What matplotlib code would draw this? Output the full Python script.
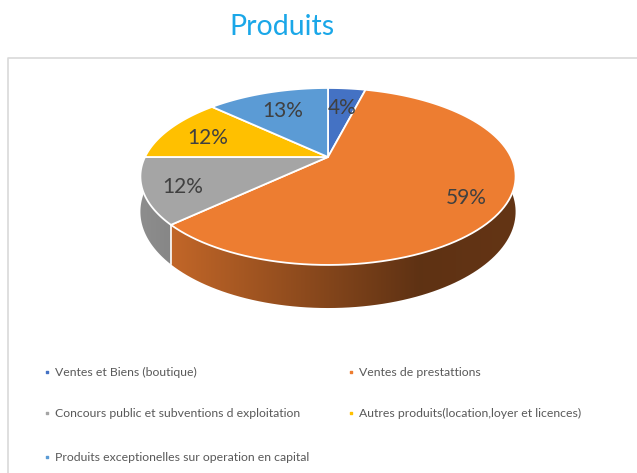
import numpy as np
import matplotlib.pyplot as plt
from matplotlib.patches import Polygon
from matplotlib.colors import to_rgb

# data
categories = ['Ventes et Biens (boutique)', 'Ventes de prestattions',
              'Concours public et subventions d exploitation',
              'Autres produits(location,loyer et licences)',
              'Produits exceptionelles sur operation en capital']
values = [4, 59, 12, 12, 13]
labels = ['4%', '59%', '12%', '12%', '13%']
colors = ['#4472C4', '#ED7D31', '#A5A5A5', '#FFC000', '#5B9BD5']

plt.rcParams['font.family'] = ['Lato', 'DejaVu Sans']

fig = plt.figure(figsize=(6.37, 4.73), dpi=100)
ax = fig.add_axes([0, 0, 1, 1])
ax.set_xlim(0, 637)
ax.set_ylim(473, 0)
ax.axis('off')

# chart border
ax.plot([8, 8, 640], [480, 58, 58], color='#D9D9D9', lw=1.2)

fig.text(0.443, 0.943, 'Produits', ha='center', va='center',
         fontsize=20.5, color='#1AA7E8')

# 3d pie geometry (perspective view of a tilted disk)
cx, cy = 328, 157
R, B, k, D = 183, 84.2, 0.22, 33.6


def project(u, v):
    w = 1 + k * v
    return cx + R * u / w, cy - B * v / w, w


fr = np.array(values, dtype=float) / sum(values)
edges = 90 - 360 * np.concatenate([[0], np.cumsum(fr)])

# side walls (front half only)
xs = np.linspace(cx - R - 10, cx + R + 10, 300)
xn = (xs - cx) / R
shade = np.interp(xn, [-1, -0.8, 0.5, 1], [0.85, 0.8, 0.4, 0.42])
for a1, a2, col in zip(edges[:-1], edges[1:], colors):
    lo, hi = max(min(a1, a2), -180), min(max(a1, a2), 0)
    if hi <= lo:
        continue
    t = np.radians(np.linspace(hi, lo, 80))
    px, py, w = project(np.cos(t), np.sin(t))
    top = np.column_stack([px, py])
    bot = np.column_stack([px, py + D / w])[::-1]
    poly = Polygon(np.vstack([top, bot]), closed=True, facecolor='none',
                   edgecolor='none')
    ax.add_patch(poly)
    img = np.array(to_rgb(col))[None, None, :] * shade[None, :, None]
    im = ax.imshow(img, extent=(xs[0], xs[-1], cy + 160, cy - 100),
                   aspect='auto', interpolation='bilinear', zorder=1)
    im.set_clip_path(poly)
ax.set_xlim(0, 637)
ax.set_ylim(473, 0)

# boundary line on side between slices
for a in edges[1:-1]:
    aa = ((a + 180) % 360) - 180
    if -180 < aa < 0:
        px, py, w = project(np.cos(np.radians(aa)), np.sin(np.radians(aa)))
        ax.plot([px, px], [py, py + D / w], color='white', lw=1.2, zorder=2)

# top face
for a1, a2, col in zip(edges[:-1], edges[1:], colors):
    t = np.radians(np.linspace(a1, a2, 100))
    px, py, _ = project(np.cos(t), np.sin(t))
    pts = np.vstack([[cx, cy], np.column_stack([px, py])])
    ax.add_patch(Polygon(pts, closed=True, facecolor=col, edgecolor='white',
                         lw=1.3, joinstyle='round', zorder=3))

# labels
radii = [0.72, 0.8, 0.8, 0.75, 0.72]
for a1, a2, lab, r in zip(edges[:-1], edges[1:], labels, radii):
    m = np.radians((a1 + a2) / 2)
    px, py, _ = project(r * np.cos(m), r * np.sin(m))
    ax.text(px, py + 3, lab, ha='center', va='center', fontsize=15,
            color='#404040', zorder=4)

# legend, two columns laid out row-wise
col_x = [47, 351]
row_y = [372, 413, 457]
for i, (cat, col) in enumerate(zip(categories, colors)):
    x, y = col_x[i % 2], row_y[i // 2]
    ax.scatter([x], [y], marker='s', s=3, color=col, zorder=4)
    ax.text(x + 8, y, cat, ha='left', va='center', fontsize=8.8,
            color='#595959', zorder=4)

plt.savefig('out.png', dpi=100)
